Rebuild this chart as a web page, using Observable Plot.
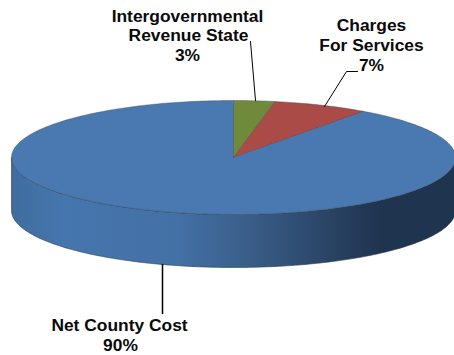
<!DOCTYPE html>
<html>
<head>
<meta charset="utf-8">
<script src="https://cdn.jsdelivr.net/npm/d3@7"></script>
<script src="https://cdn.jsdelivr.net/npm/@observablehq/plot@0.6"></script>
<style>html,body{margin:0;padding:0;background:#fff}svg{display:block}</style>
</head>
<body>
<div id="chart"></div>
<script>
// Data, clockwise from twelve o'clock
const categories = ["Intergovernmental Revenue State", "Charges For Services", "Net County Cost"];
const shares = [3, 7, 90];
const sliceColors = ["#6f8a3a", "#ab4b48", "#4a78b0"];

// Label text
const labelLines = ["Intergovernmental", "Revenue State", "3%", "Charges", "For Services", "7%", "Net County Cost", "90%"];
const labelX = [187, 188, 187, 371, 371, 371, 119, 120];
const labelY = [21, 40, 60.5, 30, 50, 70, 330, 350];

// Leader lines
const leaders = [
  [[250, 41], [255, 100]],
  [[357, 71], [346, 71], [324, 106]],
  [[162, 264], [162, 313]]
];

// Pie layout
const cx = 233, cy = 157, rx = 222, ry = 57, depth = 53;
const px = a => cx + rx * Math.sin(a);
const py = a => cy - ry * Math.cos(a);
const total = d3.sum(shares);
const STEP = Math.PI / 180;

let acc = 0;
const slicePolys = shares.map((v, i) => {
  const a0 = acc / total * 2 * Math.PI;
  acc += v;
  const a1 = acc / total * 2 * Math.PI;
  const pts = [{x: cx, y: cy, i}];
  for (let a = a0; a < a1; a += STEP) pts.push({x: px(a), y: py(a), i});
  pts.push({x: px(a1), y: py(a1), i});
  pts.push({x: cx, y: cy, i});
  return pts;
});

const lower = d3.range(90, 270.5, 1).map(d => d * STEP);
const wall = [
  ...lower.map(a => ({x: px(a), y: py(a)})),
  ...lower.slice().reverse().map(a => ({x: px(a), y: py(a) + depth}))
];

const defs = () => {
  const s = d3.create("svg:defs");
  const g = s.append("linearGradient").attr("id", "wallGrad")
    .attr("gradientUnits", "userSpaceOnUse")
    .attr("x1", cx - rx).attr("x2", cx + rx).attr("y1", 0).attr("y2", 0);
  [[0, "#3f6d9f"], [0.12, "#4676ae"], [0.38, "#4370a5"], [0.55, "#385c86"], [0.72, "#294364"], [0.83, "#1f344f"], [1, "#1f344f"]]
    .forEach(([o, c]) => g.append("stop").attr("offset", o).attr("stop-color", c));
  return s.node();
};

const plot = Plot.plot({
  width: 454, height: 355,
  margin: 0,
  x: {domain: [0, 454], range: [0, 454], axis: null},
  y: {domain: [0, 355], range: [0, 355], axis: null},
  marks: [
    defs,
    Plot.line(wall, {x: "x", y: "y", fill: "url(#wallGrad)", stroke: "#2a3a4c", strokeWidth: 0.6, curve: "linear"}),
    ...slicePolys.map((pts, i) => Plot.line(pts, {
      x: "x", y: "y", fill: sliceColors[i], stroke: "#3a4a55", strokeWidth: 0.5, strokeOpacity: 0.8, curve: "linear"
    })),
    Plot.line(leaders[0], {x: d => d[0], y: d => d[1], stroke: "#000", strokeWidth: 1, curve: "linear"}),
    Plot.line(leaders[1], {x: d => d[0], y: d => d[1], stroke: "#000", strokeWidth: 1, curve: "linear"}),
    Plot.line(leaders[2], {x: d => d[0], y: d => d[1], stroke: "#000", strokeWidth: 1.5, curve: "linear"}),
    Plot.text(labelLines, {
      x: (d, i) => labelX[i], y: (d, i) => labelY[i],
      text: d => d, textAnchor: "middle", lineAnchor: "bottom",
      fontFamily: "Liberation Sans", fontWeight: "bold", fontSize: 17.4, fill: "#0a0a0a"
    })
  ]
});
plot.setAttribute("aria-label", categories.map((c, i) => `${c} ${shares[i]}%`).join(", "));
document.getElementById("chart").append(plot);
</script>
</body>
</html>
